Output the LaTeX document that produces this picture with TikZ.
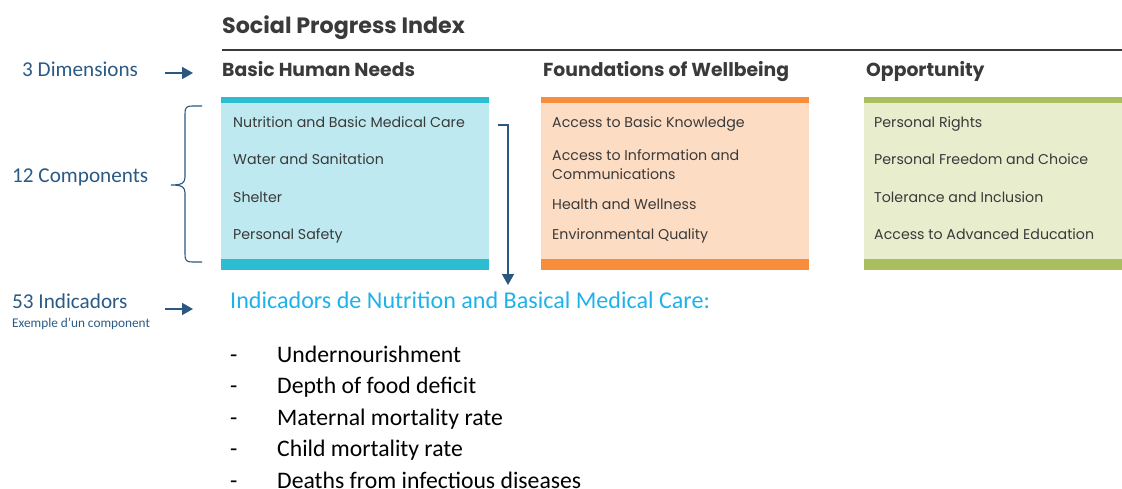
\documentclass[tikz,border=0pt]{standalone}
\usepackage{fontspec}
\setmainfont{Poppins}
\newfontfamily\calfont{Carlito}
\usetikzlibrary{arrows.meta}
\definecolor{ttl}{HTML}{3A3A3A}
\definecolor{lblue}{HTML}{2B5A85}
\definecolor{tealbar}{HTML}{2CBDD3}
\definecolor{tealfill}{HTML}{BEE9F0}
\definecolor{orbar}{HTML}{F88D3E}
\definecolor{orfill}{HTML}{FCDCC3}
\definecolor{grbar}{HTML}{A9BF5E}
\definecolor{grfill}{HTML}{E7EDCD}
\definecolor{skyb}{HTML}{1FB2EA}
\definecolor{arrblue}{HTML}{2A5880}
\tikzset{
  x=1pt, y=-1pt,
  dimhead/.style={anchor=base west, font=\fontsize{18.8}{19}\selectfont\bfseries, text=ttl, inner sep=0},
  item/.style={anchor=base west, font=\fontsize{14.2}{19}\selectfont, text=ttl, inner sep=0, align=left},
  leftlbl/.style={anchor=base west, font=\calfont\fontsize{21.2}{21}\selectfont, text=lblue, inner sep=0},
  bul/.style={anchor=base west, font=\calfont\fontsize{23.7}{24}\selectfont, text=black, inner sep=0},
  arr/.style={draw=arrblue, line width=1.8pt, -{Triangle[length=11pt,width=12pt]}},
}
\begin{document}
\begin{tikzpicture}
\useasboundingbox (0,0) rectangle (1122,489);
% title
\node[anchor=base west, inner sep=0, font=\fontsize{22.2}{22}\selectfont\bfseries, text=ttl] (title) at (222,34) {Social Progress Index};
\draw[ttl, line width=2.6pt] (222,50) -- (1122,50);
% dimension heads
\node[dimhead] (d1) at (222,77) {Basic Human Needs};
\node[dimhead] (d2) at (543,77) {Foundations of Wellbeing};
\node[dimhead] (d3) at (866,77) {Opportunity};
% boxes
\fill[tealfill] (221,97) rectangle (489,270);
\fill[tealbar] (221,97) rectangle (489,103);
\fill[tealbar] (221,259) rectangle (489,270);
\fill[orfill] (541,97) rectangle (809,270);
\fill[orbar] (541,97) rectangle (809,103);
\fill[orbar] (541,259) rectangle (809,270);
\fill[grfill] (864,97) rectangle (1122,270);
\fill[grbar] (864,97) rectangle (1122,103);
\fill[grbar] (864,259) rectangle (1122,270);
% items box 1
\node[item] (a1) at (233,128) {Nutrition and Basic Medical Care};
\node[item] (a2) at (233,165) {Water and Sanitation};
\node[item] (a3) at (233,203) {Shelter};
\node[item] (a4) at (233,240) {Personal Safety};
% items box 2
\node[item] (b1) at (552,128) {Access to Basic Knowledge};
\node[item] (b2) at (552,161) {Access to Information and};
\node[item] (b2b) at (552,180) {Communications};
\node[item] (b3) at (552,210) {Health and Wellness};
\node[item] (b4) at (552,240) {Environmental Quality};
% items box 3
\node[item] (c1) at (874,128) {Personal Rights};
\node[item] (c2) at (874,165) {Personal Freedom and Choice};
\node[item] (c3) at (874,203) {Tolerance and Inclusion};
\node[item] (c4) at (874,240) {Access to Advanced Education};
% arrow from component to indicators
\coordinate (ka) at (498,125);
\coordinate (kb) at (508,125);
\coordinate (kc) at (508,285);
\draw[arr, line width=1.5pt] (ka) -- (kb) -- (kc);
% left labels
\node[leftlbl] (l1) at (22,77) {3 Dimensions};
\node[leftlbl] (l2) at (12,183) {12 Components};
\node[leftlbl] (l3) at (12,308) {53 Indicadors};
\node[anchor=base west, inner sep=0, font=\calfont\fontsize{13.3}{12}\selectfont, text=lblue] (l4) at (12,327) {Exemple d’un component};
\coordinate (p1a) at (165,73); \coordinate (p1b) at (193,73);
\draw[arr] (p1a) -- (p1b);
\coordinate (p3a) at (165,309); \coordinate (p3b) at (193,309);
\draw[arr] (p3a) -- (p3b);
% brace
\draw[arrblue, line width=1.1pt] (202,106) -- (192,106) .. controls (186,106) and (185,108) .. (185,114) -- (185,177) .. controls (185,183) and (182,185) .. (171,185) .. controls (182,185) and (185,187) .. (185,193) -- (185,254) .. controls (185,260) and (186,262) .. (192,262) -- (202,262);
% indicators
\node[anchor=base west, inner sep=0, font=\calfont\fontsize{24.1}{24}\selectfont, text=skyb] (ih) at (230,308) {Indicadors de Nutrition and Basical Medical Care:};
\foreach \t [count=\i] in {Undernourishment, Depth of food deficit, Maternal mortality rate, Child mortality rate, Deaths from infectious diseases}{
  \node[bul] (dash\i) at (230,330.5+\i*31.5) {-};
  \node[bul] (ind\i) at (277,330.5+\i*31.5) {\t};
}
\end{tikzpicture}
\end{document}
